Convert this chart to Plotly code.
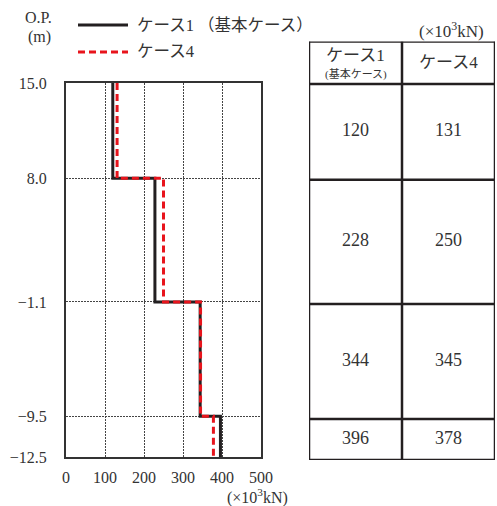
import plotly.graph_objects as go

# ---------------- data ----------------
levels = [15.0, 8.0, -1.1, -9.5, -12.5]          # O.P. (m) layer boundaries
case1 = [120, 228, 344, 396]                      # ケース1 (基本ケース)  ×10^3 kN
case4 = [131, 250, 345, 378]                      # ケース4            ×10^3 kN
x_ticks = [0, 100, 200, 300, 400, 500]
series_names = ["ケース1 （基本ケース）", "ケース4"]

# ---------------- helpers ----------------
W, H = 497, 506
def px(p):
    return p / W
def py(p):
    return 1 - p / H

def step(values, lv):
    xs, ys = [], []
    for i, v in enumerate(values):
        xs += [v, v]
        ys += [lv[i], lv[i + 1]]
    return xs, ys

FONT = "Liberation Serif, 'Noto Sans CJK JP', serif"
TXT = "#333333"
BLACK = "#231f20"
RED = "#e8141c"

fig = go.Figure()

x1, y1 = step(case1, levels)
x4, y4 = step(case4, levels)
fig.add_trace(go.Scatter(x=x1, y=y1, mode="lines", name=series_names[0],
                         line=dict(color=BLACK, width=3), showlegend=False))
fig.add_trace(go.Scatter(x=x4, y=y4, mode="lines", name=series_names[1],
                         line=dict(color=RED, width=3, dash="7px,4px"), showlegend=False))

# ---------------- table (on its own axes) ----------------
HDR_TOP = 18.1
mids = [(levels[i] + levels[i + 1]) / 2 for i in range(len(case1))]
fig.add_trace(go.Scatter(
    x=[0.5] * len(case1) + [1.5] * len(case4),
    y=mids + mids,
    text=[str(v) for v in case1] + [str(v) for v in case4],
    mode="text", textposition="middle center",
    textfont=dict(family=FONT, size=18, color=TXT),
    xaxis="x2", yaxis="y2", showlegend=False, hoverinfo="skip"))

shapes = []
for e in [0, 1, 2]:
    shapes.append(dict(type="line", xref="x2", yref="y2", x0=e, x1=e,
                       y0=levels[-1], y1=HDR_TOP, line=dict(color=BLACK, width=2.5)))
for r in [HDR_TOP] + levels:
    shapes.append(dict(type="line", xref="x2", yref="y2", x0=0, x1=2,
                       y0=r, y1=r, line=dict(color=BLACK, width=2.5)))

# legend samples
shapes.append(dict(type="line", xref="paper", yref="paper", x0=px(78), x1=px(128),
                   y0=py(25), y1=py(25), line=dict(color=BLACK, width=3)))
shapes.append(dict(type="line", xref="paper", yref="paper", x0=px(78), x1=px(128),
                   y0=py(52), y1=py(52), line=dict(color=RED, width=3, dash="7px,4px")))

ann = []
def A(text, x, y, size, xanchor="center"):
    ann.append(dict(text=text, x=px(x), y=py(y), xref="paper", yref="paper",
                    showarrow=False, xanchor=xanchor, yanchor="middle",
                    font=dict(family=FONT, size=size, color=TXT)))

A(series_names[0], 135, 25, 16.5, "left")
A(series_names[1], 135, 52, 16.5, "left")
A("O.P.", 38, 17, 16)
A("(m)", 39, 37, 16)
A("(×10<sup>3</sup>kN)", 257, 496, 16)
A("(×10<sup>3</sup>kN)", 451, 30, 17)
A("ケース1", 355.5, 55, 17)
A("(基本ケース)", 355.5, 74, 11)
A("ケース4", 448.5, 63, 17)

axis_common = dict(showline=True, mirror=True, linecolor="#333333", linewidth=2,
                   zeroline=False, showgrid=True, gridcolor="#444444", gridwidth=1.3,
                   griddash="1.5px,1.5px", ticks="", automargin=False,
                   tickfont=dict(family=FONT, size=16, color=TXT))

fig.update_layout(
    width=W, height=H, autosize=False,
    margin=dict(l=0, r=0, t=0, b=0),
    paper_bgcolor="white", plot_bgcolor="white",
    showlegend=False,
    xaxis=dict(domain=[px(66), px(261)], range=[0, 500], tickvals=x_ticks,
               ticklabelstandoff=5, anchor="y", **axis_common),
    yaxis=dict(domain=[py(457), py(83)], range=[levels[-1], levels[0]],
               tickvals=levels, tickformat=".1f", ticklabelstandoff=14,
               anchor="x", **axis_common),
    xaxis2=dict(domain=[px(309), px(495)], range=[0, 2], visible=False,
                anchor="y2", fixedrange=True),
    yaxis2=dict(domain=[py(460), py(41.5)], range=[levels[-1], HDR_TOP],
                visible=False, anchor="x2", fixedrange=True),
    shapes=shapes, annotations=ann,
)

fig.write_html("out.html", config={"displayModeBar": False},
               post_script="document.body.style.margin='0';document.body.style.overflow='hidden';")
